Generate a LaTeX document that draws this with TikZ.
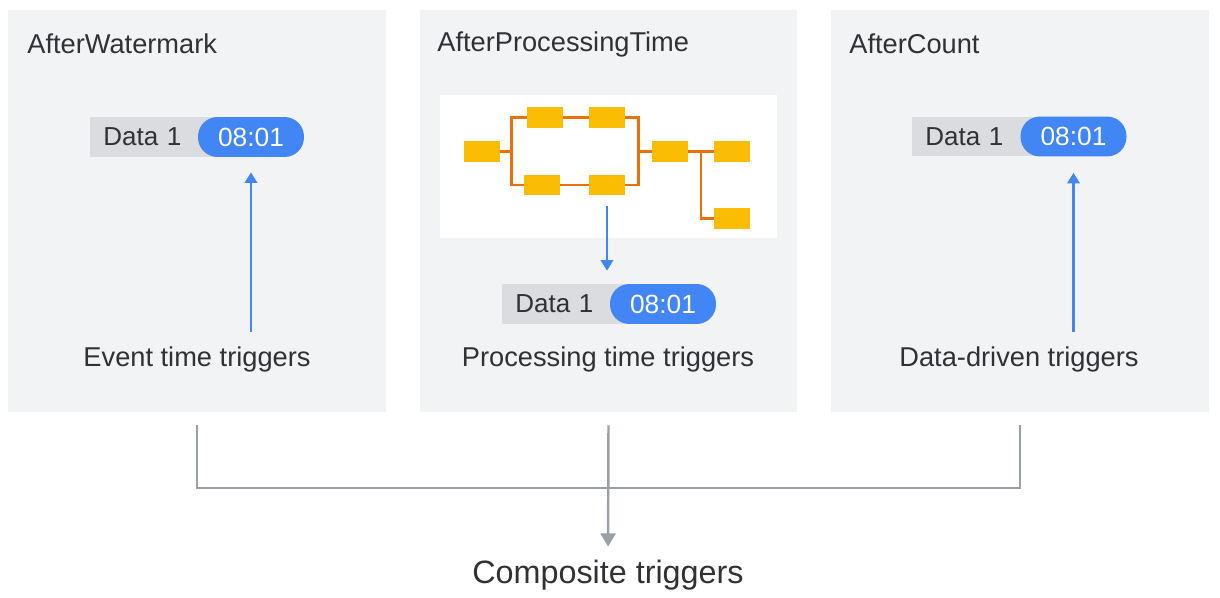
\documentclass[tikz,border=0pt]{standalone}
\usepackage{fontspec}
\setmainfont{Liberation Sans}
\usepackage{xcolor}
\usetikzlibrary{arrows.meta,positioning,calc}

\definecolor{panelbg}{HTML}{F1F3F4}
\definecolor{taggray}{HTML}{DADCE0}
\definecolor{gblue}{HTML}{4285F4}
\definecolor{gyellow}{HTML}{FBBC04}
\definecolor{gorange}{HTML}{E8710A}
\definecolor{linegray}{HTML}{9AA0A6}
\definecolor{inktext}{HTML}{303134}

\begin{document}
\begin{tikzpicture}[x=0.02cm, y=-0.02cm,
    every node/.style={text=inktext},
    panel/.style={fill=panelbg, minimum width=7.56cm, minimum height=8.04cm, inner sep=0},
    paneltitle/.style={font=\fontsize{15.5}{18}\selectfont, anchor=west, inner sep=0},
    triglabel/.style={font=\fontsize{15.5}{18}\selectfont, inner sep=0},
    datatag/.style={fill=taggray, anchor=west, minimum height=0.8cm, text width=2.68cm, inner xsep=0.26cm, inner ysep=0, align=left, font=\fontsize{14.8}{17}\selectfont},
    timepill/.style={fill=gblue, text=white, minimum width=2.12cm, minimum height=0.8cm, inner sep=0, rounded corners=0.39cm, font=\fontsize{15}{17}\selectfont},
    stepbox/.style={fill=gyellow, minimum width=0.72cm, minimum height=0.42cm, inner sep=0},
    flow/.style={draw=gorange, line width=1.4pt},
    bluearrow/.style={draw=gblue, line width=1.4pt, -{Triangle[length=6pt, width=7pt]}},
    mergeline/.style={draw=linegray, line width=1.4pt},
    mergearrow/.style={draw=linegray, line width=1.4pt, -{Triangle[length=7.5pt, width=8.5pt]}}]

    \useasboundingbox (0,0) rectangle (1220,598);

    % three panels
    \node[panel] (p1) at (197,211) {};
    \node[panel] (p2) at (608.5,211) {};
    \node[panel] (p3) at (1020,211) {};

    \node[paneltitle] (h1) at (27,44) {AfterWatermark};
    \node[paneltitle] (h2) at (437,44) {AfterProcessingTime};
    \node[paneltitle] (h3) at (849,44) {AfterCount};

    % event time
    \node[datatag] (d1) at (90,137) {Data 1};
    \node[timepill] (t1) at (251,137) {08:01};
    \node[triglabel] (l1) at (197,359) {Event time triggers};
    \draw[bluearrow, shorten <=0.28cm, shorten >=0.3cm] (t1.south |- l1.north) -- (t1.south);

    % processing time
    \node[fill=white, minimum width=6.74cm, minimum height=2.86cm, inner sep=0] (pipe) at (608.5,166.5) {};
    \node[stepbox] (a) at (482,151.5) {};
    \node[stepbox] (u1) at (545,117.5) {};
    \node[stepbox] (u2) at (607,117.5) {};
    \node[stepbox] (w1) at (542,185) {};
    \node[stepbox] (w2) at (607,185) {};
    \node[stepbox] (m) at (670,151.5) {};
    \node[stepbox] (r1) at (732,151.5) {};
    \node[stepbox] (r2) at (732,218.5) {};

    \draw[flow] (a.east) -- ++(11,0);
    \draw[flow] (u1.west) -| ($(a.east)+(11,0)$) |- (w1.west);
    \draw[flow] (u1) -- (u2);
    \draw[flow] (w1) -- (w2);
    \draw[flow] (u2.east) -| ($(m.west)+(-13,0)$) |- (w2.east);
    \draw[flow] ($(m.west)+(-13,0)$) -- (m.west);
    \draw[flow] (m) -- (r1);
    \draw[flow] ($(m.east)!0.5!(r1.west)$) |- (r2.west);

    \node[datatag] (d2) at (502,304) {Data 1};
    \node[timepill] (t2) at (663,304) {08:01};
    \draw[bluearrow, shorten <=0.2cm, shorten >=0.26cm] (w2.south) -- (w2.south |- d2.north);
    \node[triglabel] (l2) at (608,359) {Processing time triggers};

    % data driven
    \node[datatag] (d3) at (912,136.5) {Data 1};
    \node[timepill] (t3) at (1073.5,136.5) {08:01};
    \node[triglabel] (l3) at (1019,359) {Data-driven triggers};
    \draw[bluearrow, shorten <=0.28cm, shorten >=0.32cm] (t3.south |- l3.north) -- (t3.south);

    % composite
    \node[font=\fontsize{18.4}{22}\selectfont, inner sep=0] (comp) at (608,575) {Composite triggers};
    \coordinate (jl) at (197,488);
    \coordinate (jr) at (1020,488);
    \draw[mergeline] ([yshift=-0.26cm]p1.south) -- (jl) -- (jr) -- ([yshift=-0.26cm]p3.south);
    \draw[mergearrow, shorten >=0.26cm] ([yshift=-0.26cm]p2.south) -- (comp.north);
\end{tikzpicture}
\end{document}
